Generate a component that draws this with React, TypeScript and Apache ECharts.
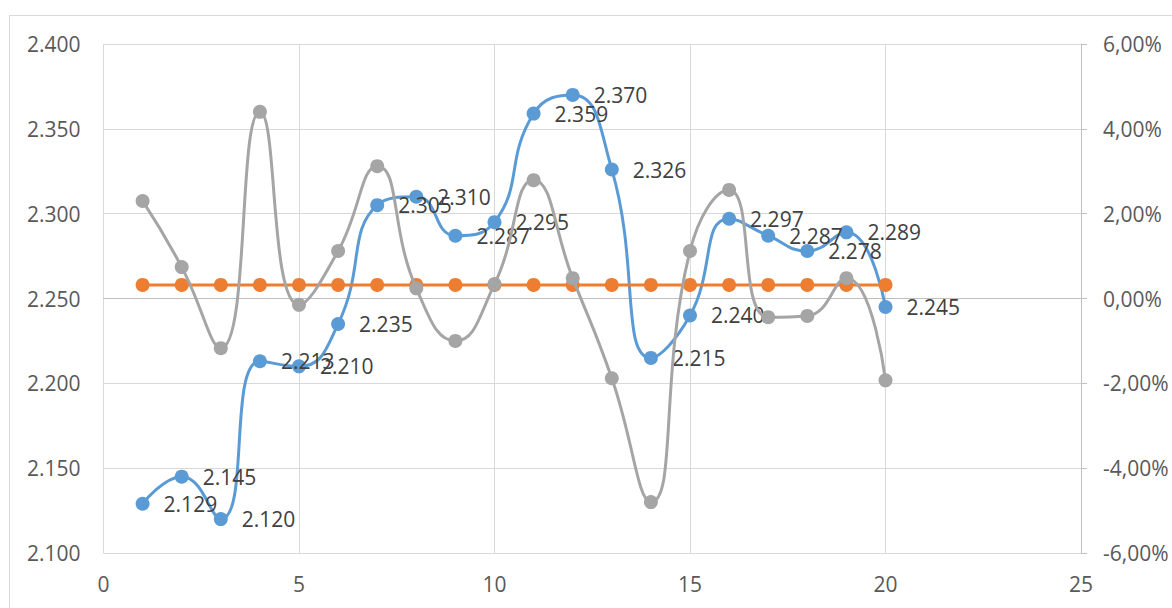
import React, { useEffect, useRef } from "react";
import * as echarts from "echarts";

const xValues = [1, 2, 3, 4, 5, 6, 7, 8, 9, 10, 11, 12, 13, 14, 15, 16, 17, 18, 19, 20];
const priceValues = [
  2.129, 2.145, 2.12, 2.213, 2.21, 2.235, 2.305, 2.31, 2.287, 2.295,
  2.359, 2.37, 2.326, 2.215, 2.24, 2.297, 2.287, 2.278, 2.289, 2.245,
];
const averageValues = [
  2.258, 2.258, 2.258, 2.258, 2.258, 2.258, 2.258, 2.258, 2.258, 2.258,
  2.258, 2.258, 2.258, 2.258, 2.258, 2.258, 2.258, 2.258, 2.258, 2.258,
];
// percent change (right axis, in %)
const changeValues = [
  2.3, 0.74, -1.17, 4.4, -0.15, 1.12, 3.12, 0.24, -1.0, 0.34,
  2.79, 0.48, -1.88, -4.8, 1.12, 2.56, -0.44, -0.41, 0.48, -1.93,
];
const leftTicks = { min: 2.1, max: 2.4, interval: 0.05 };
const rightTicks = { min: -6, max: 6, interval: 2 };
const xTicks = { min: 0, max: 25, interval: 5 };

const FONT = "'Open Sans', 'Noto Sans', sans-serif";

export default function App() {
  const ref = useRef<HTMLDivElement>(null);
  useEffect(() => {
    if (!ref.current) return;
    const chart = echarts.init(ref.current, null, { renderer: "svg" });
    const pair = (ys: number[]) => xValues.map((x, i) => [x, ys[i]]);
    chart.setOption({
      animation: false,
      backgroundColor: "#ffffff",
      textStyle: { fontFamily: FONT },
      graphic: [
        {
          type: "rect",
          shape: { x: 9.5, y: 15.5, width: 1300, height: 800 },
          style: { fill: "none", stroke: "#d9d9d9", lineWidth: 1 },
          silent: true,
          z: -10,
        },
      ],
      grid: { left: 103.5, right: 91, top: 44, bottom: 55, containLabel: false },
      xAxis: {
        type: "value",
        min: xTicks.min,
        max: xTicks.max,
        interval: xTicks.interval,
        axisLine: { show: true, lineStyle: { color: "#bfbfbf", width: 1 } },
        axisTick: { show: false },
        splitLine: { show: true, lineStyle: { color: "#d9d9d9", width: 1 } },
        axisLabel: { color: "#595959", fontSize: 21, fontFamily: FONT, margin: 20 },
      },
      yAxis: [
        {
          type: "value",
          position: "left",
          min: leftTicks.min,
          max: leftTicks.max,
          interval: leftTicks.interval,
          axisLine: { show: false },
          axisTick: { show: false },
          splitLine: { show: true, lineStyle: { color: "#d9d9d9", width: 1 } },
          axisLabel: {
            color: "#595959",
            fontSize: 21,
            fontFamily: FONT,
            margin: 23,
            formatter: (v: number) => v.toFixed(3),
          },
        },
        {
          type: "value",
          position: "right",
          min: rightTicks.min,
          max: rightTicks.max,
          interval: rightTicks.interval,
          axisLine: { show: true, lineStyle: { color: "#bfbfbf", width: 1 } },
          axisTick: { show: true, length: 6, lineStyle: { color: "#bfbfbf" } },
          splitLine: { show: false },
          axisLabel: {
            color: "#595959",
            fontSize: 21,
            fontFamily: FONT,
            margin: 22,
            formatter: (v: number) => v.toFixed(2).replace(".", ",") + "%",
          },
        },
      ],
      series: [
        {
          name: "Price",
          type: "line",
          yAxisIndex: 0,
          data: pair(priceValues),
          smooth: 0.5,
          symbol: "circle",
          symbolSize: 14,
          itemStyle: { color: "#5b9bd5" },
          lineStyle: { color: "#5b9bd5", width: 3 },
          label: {
            show: true,
            position: "right",
            distance: 14,
            color: "#404040",
            fontSize: 21,
            fontFamily: FONT,
            formatter: (p: any) => p.value[1].toFixed(3),
          },
          z: 3,
        },
        {
          name: "Average",
          type: "line",
          yAxisIndex: 0,
          data: pair(averageValues),
          symbol: "circle",
          symbolSize: 14,
          itemStyle: { color: "#ed7d31" },
          lineStyle: { color: "#ed7d31", width: 3 },
          z: 4,
        },
        {
          name: "Change",
          type: "line",
          yAxisIndex: 1,
          data: pair(changeValues),
          smooth: 0.5,
          symbol: "circle",
          symbolSize: 14,
          itemStyle: { color: "#a5a5a5" },
          lineStyle: { color: "#a5a5a5", width: 3 },
          z: 5,
        },
      ],
    });
    return () => chart.dispose();
  }, []);
  return (
    <div
      ref={ref}
      style={{ position: "absolute", left: 0, top: 0, width: 1172, height: 608, background: "#fff" }}
    />
  );
}
